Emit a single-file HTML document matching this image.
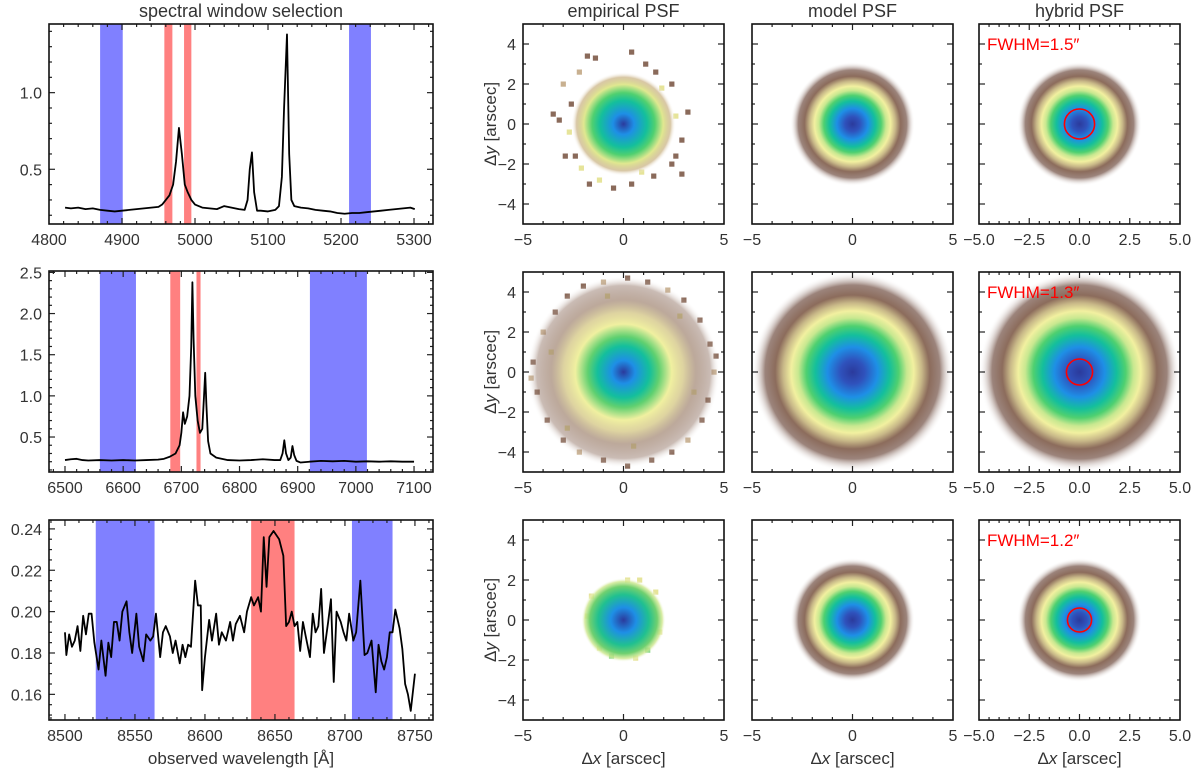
<!DOCTYPE html>
<html><head><meta charset="utf-8"><style>
html,body{margin:0;padding:0;background:#fff}
svg text{font-family:"Liberation Sans",sans-serif;fill:#333}
</style></head><body>
<svg id="fig" width="1200" height="775" viewBox="0 0 1200 775" xmlns="http://www.w3.org/2000/svg">
<defs id="defs"></defs>
<g id="root"></g>
</svg>
<script>
// ---------- data ----------
const spec1Wl = [4822,4830,4840,4850,4860,4870,4880,4890,4900,4910,4920,4930,4940,4950,4955,4960,4965,4970,4974,4978,4982,4986,4990,4995,5000,5010,5020,5030,5040,5050,5060,5068,5072,5075,5078,5081,5085,5090,5100,5110,5115,5119,5122,5126,5129,5132,5136,5145,5155,5165,5175,5185,5195,5205,5215,5225,5235,5245,5255,5265,5275,5285,5295,5301];
const spec1Fl = [0.25,0.245,0.25,0.24,0.245,0.235,0.23,0.225,0.23,0.235,0.24,0.245,0.25,0.255,0.27,0.3,0.33,0.4,0.55,0.77,0.6,0.4,0.35,0.3,0.27,0.25,0.245,0.24,0.26,0.25,0.24,0.235,0.3,0.5,0.61,0.35,0.23,0.23,0.225,0.235,0.26,0.45,0.9,1.38,0.6,0.3,0.26,0.25,0.245,0.235,0.23,0.225,0.215,0.21,0.215,0.215,0.22,0.225,0.23,0.235,0.24,0.245,0.25,0.24];
const spec2Wl = [6500,6510,6520,6530,6540,6560,6580,6600,6620,6640,6660,6670,6680,6690,6697,6700,6703,6706,6710,6714,6717,6719,6721,6724,6728,6732,6736,6739,6741,6743,6746,6750,6760,6780,6800,6820,6840,6860,6870,6874,6877,6880,6884,6888,6891,6894,6898,6905,6920,6940,6960,6980,7000,7020,7040,7060,7080,7100];
const spec2Fl = [0.22,0.23,0.235,0.22,0.215,0.22,0.215,0.22,0.215,0.22,0.225,0.235,0.26,0.3,0.4,0.55,0.8,0.66,0.75,1.0,1.6,2.38,1.7,1.0,0.7,0.55,0.6,1.0,1.28,0.9,0.45,0.3,0.25,0.22,0.215,0.22,0.23,0.22,0.22,0.3,0.46,0.3,0.22,0.25,0.39,0.28,0.21,0.19,0.2,0.21,0.205,0.21,0.2,0.205,0.2,0.205,0.2,0.2];
const spec3Wl = [8500,8501,8503,8505,8507,8509,8511,8513,8515,8517,8519,8521,8524,8526,8529,8531,8533,8535,8537,8539,8541,8544,8546,8548,8551,8553,8556,8558,8561,8563,8565,8568,8570,8572,8575,8577,8579,8582,8584,8586,8588,8590,8593,8595,8597,8598,8600,8603,8605,8608,8610,8612,8615,8618,8620,8622,8625,8628,8630,8633,8635,8638,8640,8642,8644,8646,8649,8651,8653,8656,8658,8660,8662,8664,8666,8668,8670,8672,8675,8677,8679,8681,8683,8685,8688,8690,8692,8694,8697,8699,8701,8703,8706,8708,8711,8714,8716,8719,8722,8724,8726,8728,8730,8732,8734,8736,8739,8741,8743,8745,8747,8750];
const spec3Fl = [0.19,0.179,0.189,0.183,0.186,0.193,0.181,0.198,0.189,0.199,0.199,0.185,0.172,0.186,0.169,0.185,0.178,0.195,0.195,0.186,0.2,0.205,0.19,0.18,0.199,0.183,0.176,0.189,0.186,0.188,0.199,0.178,0.19,0.193,0.188,0.18,0.186,0.175,0.184,0.178,0.184,0.183,0.215,0.203,0.203,0.162,0.178,0.196,0.186,0.199,0.184,0.19,0.186,0.195,0.186,0.194,0.198,0.19,0.2,0.207,0.203,0.207,0.2,0.236,0.212,0.236,0.239,0.237,0.235,0.227,0.193,0.195,0.2,0.193,0.195,0.181,0.195,0.188,0.178,0.199,0.19,0.193,0.211,0.18,0.195,0.206,0.166,0.2,0.195,0.19,0.186,0.199,0.186,0.19,0.215,0.179,0.18,0.186,0.161,0.184,0.176,0.172,0.178,0.19,0.19,0.201,0.192,0.182,0.165,0.16,0.152,0.17];
const blue1 = [[4870,4901],[5211,5241]];
const red1 = [[4958,4969],[4985,4995]];
const blue2 = [[6560,6622],[6921,7019]];
const red2 = [[6681,6698],[6726,6733]];
const blue3 = [[8522,8564],[8705,8734]];
const red3 = [[8633,8664]];
const fwhm = [1.5,1.3,1.2];
const modelR = [3.1,5.0,3.1];
const empR = [2.6,4.8,2.1];
const speck1 = [[-3.5,0.5,'b'],[-3.2,0.2,'b'],[-2.9,-1.6,'b'],[-2.4,-1.6,'b'],[-2.6,1.0,'b'],[-2.2,2.6,'t'],[-1.8,3.4,'b'],[-1.4,3.3,'b'],[0.4,3.6,'b'],[1.1,3.0,'b'],[1.6,2.6,'b'],[2.4,2.0,'b'],[2.6,0.4,'y'],[3.2,0.6,'b'],[2.9,-0.8,'b'],[2.6,-1.6,'b'],[2.4,-2.0,'b'],[1.5,-2.6,'b'],[0.9,-2.4,'y'],[0.4,-3.0,'b'],[-0.5,-3.2,'b'],[-1.2,-2.8,'y'],[-1.7,-3.0,'b'],[-2.1,-2.2,'y'],[1.9,1.8,'y'],[-2.7,-0.4,'y'],[2.9,-2.5,'b'],[-3.0,2.0,'t']];
const speck2 = [[-4.5,0.5,'b'],[-4.3,-1.0,'b'],[-4.0,2.0,'t'],[-3.8,-2.4,'b'],[-3.4,3.0,'b'],[-2.8,3.8,'b'],[-2.0,4.3,'b'],[-1.0,4.5,'t'],[0.2,4.7,'b'],[1.2,4.5,'b'],[2.2,4.1,'t'],[3.0,3.6,'b'],[3.8,2.6,'b'],[4.3,1.4,'b'],[4.5,0.0,'t'],[4.2,-1.4,'b'],[3.9,-2.4,'b'],[3.2,-3.4,'t'],[2.4,-4.0,'b'],[1.4,-4.4,'b'],[0.2,-4.7,'b'],[-1.0,-4.4,'b'],[-2.2,-4.0,'t'],[-3.0,-3.4,'b'],[-4.6,-0.3,'t'],[4.6,0.8,'b'],[-3.6,1.0,'y'],[3.5,-1.0,'y'],[0.5,-3.7,'y'],[-0.8,3.8,'y'],[2.8,2.8,'y'],[-2.8,-2.8,'y']];
const speck3 = [[-1.6,1.2,'y'],[-1.8,0.2,'y'],[1.6,1.4,'y'],[1.8,-0.6,'y'],[0.6,-1.9,'y'],[-0.6,-1.8,'g'],[0.2,2.0,'y'],[-1.2,-1.4,'y'],[1.2,-1.5,'g'],[0.8,2.0,'y']];

// ---------- helpers ----------
const NS = "http://www.w3.org/2000/svg";
const root = document.getElementById('root');
const defs = document.getElementById('defs');
function mk(tag, attrs, parent){ const e=document.createElementNS(NS,tag); for(const k in attrs) e.setAttribute(k,attrs[k]); (parent||root).appendChild(e); return e; }
function txt(s,x,y,size,anchor,parent,color){ const t=mk('text',{x:x,y:y,'font-size':size,'text-anchor':anchor||'middle'},parent); if(color) t.setAttribute('style','fill:'+color); t.textContent=s; return t; }
function axes(px0,px1,py0,py1,xd,yd){
  return {px0,px1,py0,py1,
    x:v=>px0+(v-xd[0])/(xd[1]-xd[0])*(px1-px0),
    y:v=>py1-(v-yd[0])/(yd[1]-yd[0])*(py1-py0), xd, yd};
}
function ticks(a,g,xmaj,xmin,ymaj,ymin,xlabels,ylabels,xfmt,yfmt){
  const eps=1e-6;
  function tk(x1,y1,x2,y2){ mk('line',{x1,y1,x2,y2,stroke:'#222','stroke-width':1.2},g); }
  for(let v=Math.ceil(a.xd[0]/xmin-eps)*xmin; v<=a.xd[1]+eps; v+=xmin){
    const X=a.x(v); if(X<a.px0+0.5||X>a.px1-0.5) continue;
    const major=Math.abs(v/xmaj-Math.round(v/xmaj))<1e-4; const L=major?6:3;
    tk(X,a.py1,X,a.py1-L); tk(X,a.py0,X,a.py0+L);
  }
  for(let v=Math.ceil(a.yd[0]/ymin-eps)*ymin; v<=a.yd[1]+eps; v+=ymin){
    const Y=a.y(v); if(Y<a.py0+0.5||Y>a.py1-0.5) continue;
    const major=Math.abs(v/ymaj-Math.round(v/ymaj))<1e-4; const L=major?6:3;
    tk(a.px0,Y,a.px0+L,Y); tk(a.px1,Y,a.px1-L,Y);
  }
  if(xlabels) xlabels.forEach(v=>{ const t=txt(xfmt(v),a.x(v),a.py1+21,16,'middle',g);   });
  if(ylabels) ylabels.forEach(v=>{ const t=txt(yfmt(v),a.px0-7,a.y(v)+6,16,'end',g);   });
  mk('rect',{x:a.px0,y:a.py0,width:a.px1-a.px0,height:a.py1-a.py0,fill:'none',stroke:'#111','stroke-width':1.6},g);
}
function range(a,b,s){ const r=[]; for(let v=a; v<=b+1e-9; v+=s) r.push(+v.toFixed(6)); return r; }

// ---------- spectra ----------
const specCfg = [
 {a:axes(49,433,24,224,[4800,5326],[0.143,1.448]), wl:spec1Wl, fl:spec1Fl, blue:blue1, red:red1, xl:range(4800,5300,100), xmaj:100,xmin:20, yl:[0.5,1.0], ymaj:0.5, ymin:0.1, yf:v=>v.toFixed(1)},
 {a:axes(49,433,271,472,[6472.5,7132.6],[0.075,2.517]), wl:spec2Wl, fl:spec2Fl, blue:blue2, red:red2, xl:range(6500,7100,100), xmaj:100,xmin:20, yl:[0.5,1.0,1.5,2.0,2.5], ymaj:0.5, ymin:0.1, yf:v=>v.toFixed(1)},
 {a:axes(49,433,520,720,[8488.6,8762.9],[0.1476,0.2443]), wl:spec3Wl, fl:spec3Fl, blue:blue3, red:red3, xl:range(8500,8750,50), xmaj:50,xmin:10, yl:[0.16,0.18,0.20,0.22,0.24], ymaj:0.02, ymin:0.005, yf:v=>v.toFixed(2)}
];
specCfg.forEach((c,i)=>{
  const g=mk('g',{});  
  const a=c.a;
  c.blue.forEach(b=>{ const r=mk('rect',{x:a.x(b[0]),y:a.py0,width:a.x(b[1])-a.x(b[0]),height:a.py1-a.py0,fill:'#8080ff'},g);   });
  c.red.forEach(b=>{ const r=mk('rect',{x:a.x(b[0]),y:a.py0,width:a.x(b[1])-a.x(b[0]),height:a.py1-a.py0,fill:'#ff8080'},g);   });
  const d=c.wl.map((w,k)=>(k?'L':'M')+a.x(w).toFixed(2)+','+a.y(c.fl[k]).toFixed(2)).join(' ');
  const p=mk('path',{d:d,fill:'none',stroke:'#000','stroke-width':1.8,'stroke-linejoin':'round'},g);
   
  ticks(a,g,c.xmaj,c.xmin,c.ymaj,c.ymin,c.xl,c.yl,v=>String(v),c.yf);
});
let t=txt('spectral window selection',241,17,18);  
t=txt('observed wavelength [Å]',241,764,17);  

// ---------- PSF panels ----------
const cols=[523,752,979], rows=[24,272,520], W=201, H=200;
const colTitles=['empirical PSF','model PSF','hybrid PSF'];
colTitles.forEach((s,j)=>{ const tt=txt(s,cols[j]+W/2,17,18);  
  const xt=mk('text',{x:cols[j]+W/2,y:764,'font-size':17,'text-anchor':'middle'});   xt.innerHTML='Δ<tspan font-style="italic">x</tspan> [arscec]'; });
function grad(id,stops){ const gr=mk('radialGradient',{id:id,cx:'50%',cy:'50%',r:'50%'},defs); stops.forEach(s=>mk('stop',{offset:s[0],'stop-color':s[1],'stop-opacity':s[2]===undefined?1:s[2]},gr)); }
grad('gModel',[[0,'#2b3a9c'],[0.12,'#2f52bc'],[0.25,'#1e8fe6'],[0.37,'#14bf9c'],[0.46,'#4fd070'],[0.54,'#c8e890'],[0.61,'#f2f0a0'],[0.69,'#c8b888'],[0.77,'#8c6c5c'],[0.87,'#8a6e64',0.85],[1,'#ffffff',0]]);
grad('gE0',[[0,'#2b3a9c'],[0.2,'#1e8fe6'],[0.45,'#14bf9c'],[0.6,'#50d070'],[0.76,'#e0e890'],[0.9,'#c8b080',0.7],[1,'#ffffff',0]]);
grad('gE1',[[0,'#2b3a9c'],[0.12,'#1e8fe6'],[0.27,'#14bf9c'],[0.37,'#60d070'],[0.5,'#f0f0a0'],[0.62,'#d8cc90',0.85],[0.75,'#a08470',0.7],[0.9,'#8a6a5a',0.45],[1,'#ffffff',0]]);
grad('gE2',[[0,'#2b3a9c'],[0.3,'#1e8fe6'],[0.6,'#20c090'],[0.8,'#70d070'],[0.92,'#d0e890',0.8],[1,'#ffffff',0]]);
const speckCol={b:'#8a6a5a',t:'#c8b090',y:'#e6e49a',g:'#70d070'};
const specks=[speck1,speck2,speck3];
rows.forEach((ry,i)=>{
  cols.forEach((cx,j)=>{
    const a=axes(cx,cx+W,ry,ry+H,[-5,5],[-5,5]);
    const g=mk('g',{});  
    if(j===0){
      specks[i].forEach(s=>{ const r=mk('rect',{x:a.x(s[0]-0.125),y:a.y(s[1]+0.125),width:5.2,height:5.2,fill:speckCol[s[2]]},g);   });
      const R=empR[i];
      const e=mk('ellipse',{cx:a.x(0),cy:a.y(0),rx:a.x(R)-a.x(0),ry:a.y(0)-a.y(R),fill:'url(#gE'+i+')'},g);
       
    } else {
      const R=modelR[i];
      const e=mk('ellipse',{cx:a.x(0),cy:a.y(0),rx:a.x(R)-a.x(0),ry:a.y(0)-a.y(R),fill:'url(#gModel)'},g);
       
    }
    if(j===2){
      const hr=fwhm[i]/2;
      const c=mk('ellipse',{cx:a.x(0),cy:a.y(0),rx:a.x(hr)-a.x(0),ry:a.y(0)-a.y(hr),fill:'none',stroke:'#ff0000','stroke-width':1.6},g);
       
      const ft=txt('FWHM='+fwhm[i].toFixed(1)+'″',cx+8,ry+26,17,'start',g,'#ff0000');
       
    }
    const xl = j===2 ? [-5,-2.5,0,2.5,5] : [-5,0,5];
    const xf = j===2 ? (v=>(v<0?'−':'')+Math.abs(v).toFixed(1)) : (v=>(v<0?'−':'')+Math.abs(v));
    ticks(a,g,j===2?2.5:5,j===2?0.5:1,2,1,xl,j===0?[-4,-2,0,2,4]:null,xf,v=>(v<0?'−':'')+Math.abs(v));
  });
  const yt=mk('text',{x:0,y:0,'font-size':17,'text-anchor':'middle',transform:'translate(496,'+(ry+H/2)+') rotate(-90)'});
   
  yt.innerHTML='Δ<tspan font-style="italic">y</tspan> [arscec]';
});
</script>
</body></html>
